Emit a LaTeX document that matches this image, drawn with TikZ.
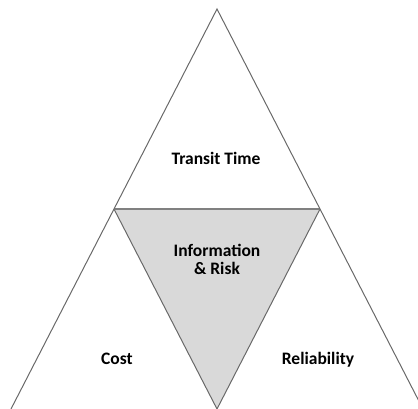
\documentclass[tikz,border=0pt]{standalone}
\usepackage{fontspec}
\setmainfont{Carlito}
\usetikzlibrary{calc}
\definecolor{edgegray}{RGB}{105,105,105}
\definecolor{bargray}{RGB}{128,128,128}
\definecolor{midfill}{RGB}{217,217,217}

\begin{document}
\begin{tikzpicture}[x=1pt, y=-1pt, font=\bfseries\fontsize{17.5}{20}\selectfont,
  edge/.style={draw=edgegray, line width=1pt},
  label/.style={text=black, anchor=base, inner sep=0pt}]
\useasboundingbox (0,0) rectangle (418,409);
\clip (0,0) rectangle (418,409);

% corners of the big triangle
\coordinate (top) at (217,9);
\coordinate (bl) at (11,409);
\coordinate (br) at (423,409);
\coordinate (ml) at ($(top)!0.5!(bl)$);
\coordinate (mr) at ($(top)!0.5!(br)$);
\coordinate (mb) at ($(bl)!0.5!(br)$);

% middle triangle
\fill[midfill] (ml) -- (mr) -- (mb) -- cycle;
\draw[edge] (ml) -- (mb) -- (mr);
\draw[draw=bargray, line width=2pt] (ml) -- (mr);

% outer edges
\draw[edge] (bl) -- (top) -- (br);

% labels (placed on their baselines)
\node[label] (transit) at (216,165) {Transit Time};
\node[label] (info) at (217,256) {Information};
\node[label] (risk) at (217,274) {\& Risk};
\node[label] (cost) at (117,364) {Cost};
\node[label] (reliab) at (318,364) {Reliability};
\end{tikzpicture}
\end{document}
